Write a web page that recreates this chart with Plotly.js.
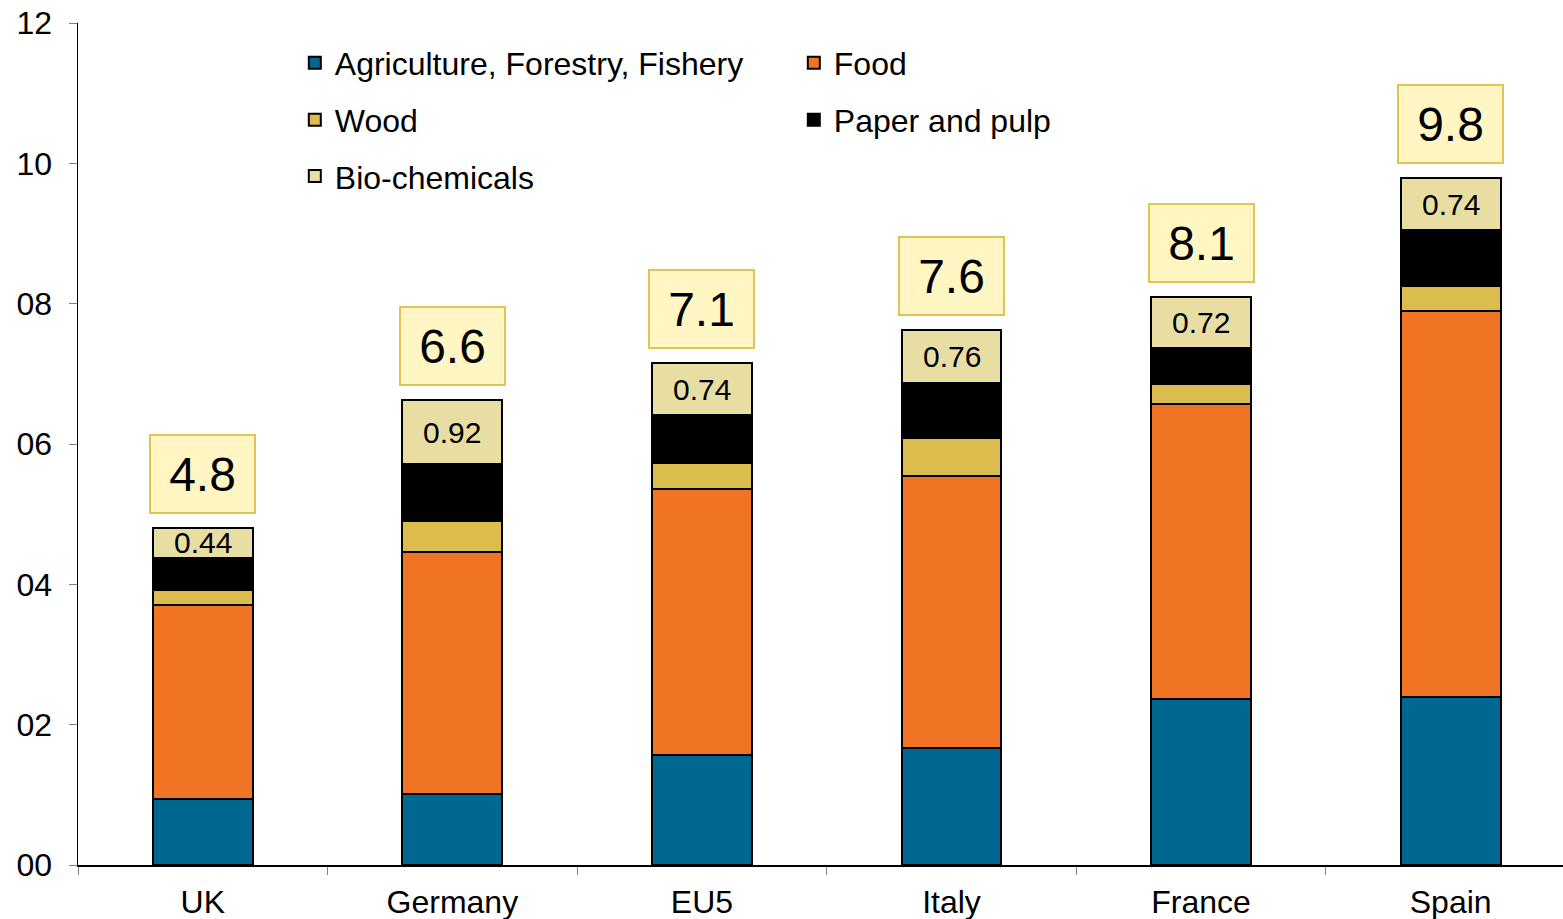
<!DOCTYPE html>
<html><head><meta charset="utf-8">
<script src="https://cdn.plot.ly/plotly-3.0.1.min.js"></script>
<style>html,body{margin:0;padding:0;background:#fff}#c{width:1563px;height:919px}</style>
</head><body><div id="c"></div>
<script>
const countries = ["UK","Germany","EU5","Italy","France","Spain"];
const agriculture = [0.94, 1.01, 1.57, 1.67, 2.37, 2.39];
const food = [2.77, 3.45, 3.79, 3.87, 4.20, 5.51];
const wood = [0.21, 0.44, 0.37, 0.55, 0.28, 0.35];
const paper = [0.45, 0.81, 0.68, 0.78, 0.52, 0.80];
const bioChem = [0.44, 0.92, 0.74, 0.76, 0.72, 0.74];
const totals = [4.8, 6.6, 7.1, 7.6, 8.1, 9.8];
const yTickVals = [0,2,4,6,8,10,12];
const yTickText = ["00","02","04","06","08","10","12"];

const series = [
  {name:"Agriculture, Forestry, Fishery", y:agriculture, color:"#006890", legend:"legend"},
  {name:"Food", y:food, color:"#F07424", legend:"legend"},
  {name:"Wood", y:wood, color:"#DCBC4C", legend:"legend2"},
  {name:"Paper and pulp", y:paper, color:"#000000", legend:"legend2"},
  {name:"Bio-chemicals", y:bioChem, color:"#E8DEA4", legend:"legend3"}
];
const FONT = "Liberation Sans, Arial, sans-serif";
const traces = series.map(s => ({
  type:"bar", x:countries, y:s.y, name:s.name, legend:s.legend,
  width:0.4, marker:{color:s.color, line:{color:"#000", width:2}},
  hoverinfo:"name+y"
}));

const annotations = [];
countries.forEach((c,i) => {
  const base = agriculture[i]+food[i]+wood[i]+paper[i];
  const top = base + bioChem[i];
  annotations.push({x:c, y:base + bioChem[i]/2, text:bioChem[i].toFixed(2), showarrow:false,
    font:{family:FONT, size:30, color:"#000"}, yanchor:"middle"});
  annotations.push({x:c, y:top, text:totals[i].toFixed(1), showarrow:false, yanchor:"bottom", yshift:14,
    width:101, height:74, bgcolor:"#FFF6C4", bordercolor:"#E0C454", borderwidth:2,
    font:{family:FONT, size:48, color:"#000"}});
});

const legendBase = {orientation:"h", x:0.146, xanchor:"left", yanchor:"middle", entrywidth:454, entrywidthmode:"pixels",
  font:{family:FONT, size:32, color:"#000"}, bgcolor:"rgba(0,0,0,0)", itemclick:false, itemdoubleclick:false, traceorder:"normal"};

const layout = {
  width:1563, height:919, barmode:"stack",
  margin:{l:78, r:0, t:23, b:54},
  paper_bgcolor:"#fff", plot_bgcolor:"#fff",
  font:{family:FONT, size:32, color:"#000"},
  legend:Object.assign({}, legendBase, {y:0.9525}),
  legend2:Object.assign({}, legendBase, {y:0.885}),
  legend3:Object.assign({}, legendBase, {y:0.818}),
  xaxis:{range:[-0.5,5.45], tickson:"boundaries", ticks:"outside", ticklen:8, tickcolor:"#808080",
    showline:true, linecolor:"#000", linewidth:1.5, showgrid:false, zeroline:false, ticklabelstandoff:8,
    tickfont:{family:FONT, size:32, color:"#000"}, fixedrange:true},
  yaxis:{range:[0,12], tickvals:yTickVals, ticktext:yTickText, ticks:"outside", ticklen:8, tickcolor:"#808080",
    showline:true, linecolor:"#000", linewidth:1.5, showgrid:false, zeroline:false, ticklabelstandoff:10,
    tickfont:{family:FONT, size:32, color:"#000"}, fixedrange:true},
  annotations:annotations,
  showlegend:true
};
Plotly.newPlot("c", traces, layout, {displayModeBar:false, staticPlot:true});
</script></body></html>
